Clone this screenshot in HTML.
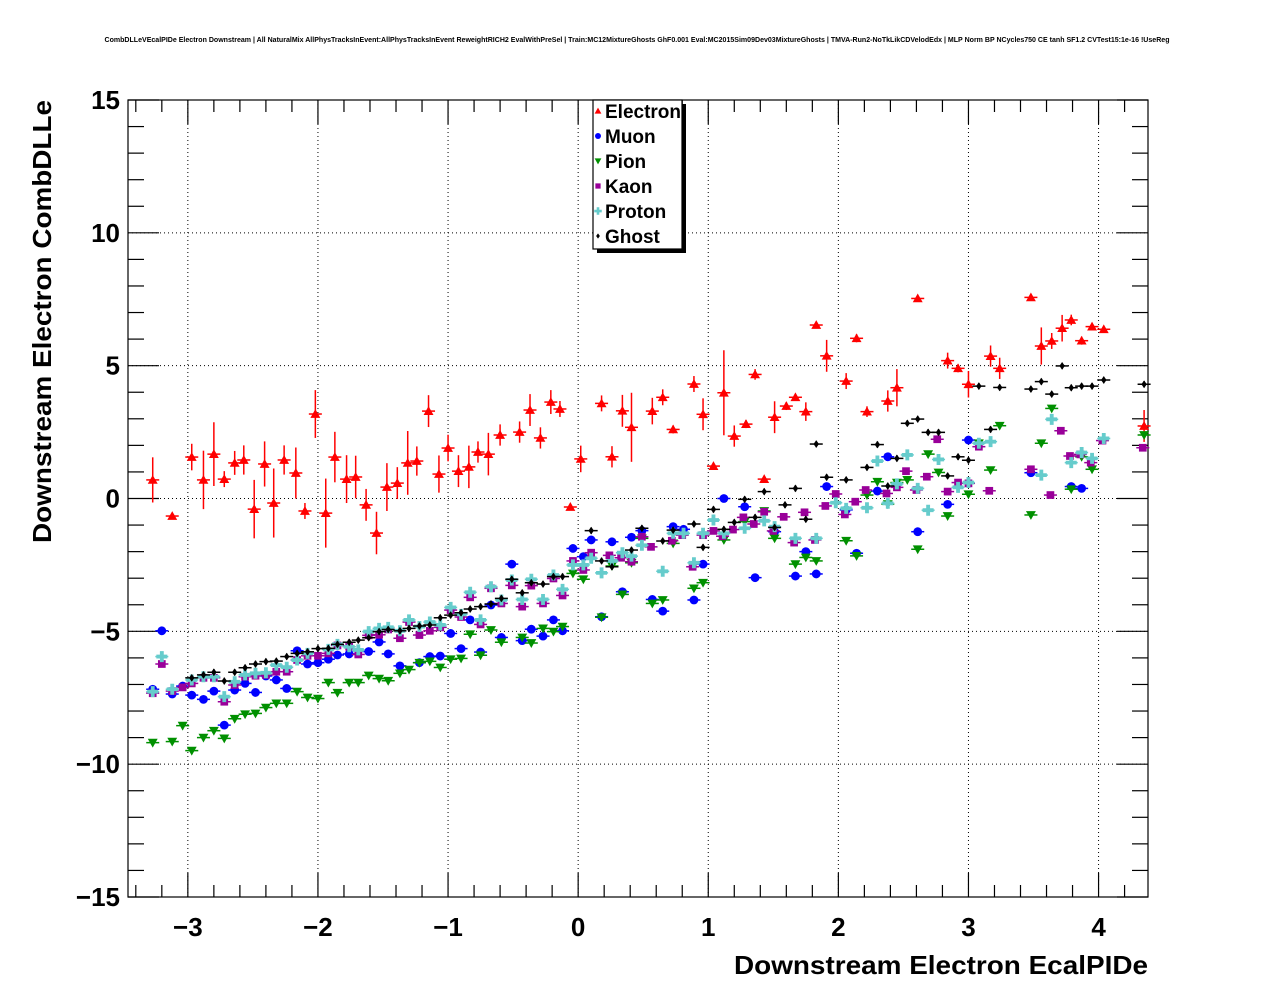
<!DOCTYPE html>
<html><head><meta charset="utf-8"><style>
html,body{margin:0;padding:0;background:#fff;}
svg{display:block;font-family:"Liberation Sans",Arial,sans-serif;}
</style></head><body>
<svg id="chart" width="1276" height="996" viewBox="0 0 1276 996">
<rect width="1276" height="996" fill="#fff"/>
<text x="637" y="42" font-size="7" font-weight="bold" text-anchor="middle" textLength="1065" lengthAdjust="spacingAndGlyphs">CombDLLeVEcalPIDe Electron Downstream | All NaturalMix AllPhysTracksInEvent:AllPhysTracksInEvent ReweightRICH2 EvalWithPreSel | Train:MC12MixtureGhosts GhF0.001 Eval:MC2015Sim09Dev03MixtureGhosts | TMVA-Run2-NoTkLikCDVelodEdx | MLP Norm BP NCycles750 CE tanh SF1.2 CVTest15:1e-16 !UseReg</text>
<g id="grid"></g>
<g id="axes"></g>
<g id="marks"></g>
<text x="734" y="974" font-size="26" font-weight="bold" textLength="414" lengthAdjust="spacingAndGlyphs">Downstream Electron EcalPIDe</text>
<text transform="translate(51,543) rotate(-90)" font-size="26" font-weight="bold" text-anchor="start" textLength="443" lengthAdjust="spacingAndGlyphs">Downstream Electron CombDLLe</text>
<g id="legend"></g>
</svg>
<script>
const xMin=-3.46, xMax=4.38, yMin=-15, yMax=15;
const xTicks=[-3,-2,-1,0,1,2,3,4];
const xTickLabels=["\u22123","\u22122","\u22121","0","1","2","3","4"];
const yTicks=[-15,-10,-5,0,5,10,15];
const yTickLabels=["\u221215","\u221210","\u22125","0","5","10","15"];
const seriesNames=["Electron","Muon","Pion","Kaon","Proton","Ghost"];

const elX=[-3.27,-3.12,-2.97,-2.88,-2.80,-2.72,-2.64,-2.57,-2.49,-2.41,-2.34,-2.26,-2.17,-2.10,-2.02,-1.94,-1.87,-1.78,-1.71,-1.63,-1.55,-1.47,-1.39,-1.31,-1.24,-1.15,-1.07,-1.00,-0.92,-0.84,-0.77,-0.69,-0.60,-0.45,-0.37,-0.29,-0.21,-0.14,-0.06,0.02,0.18,0.26,0.34,0.41,0.57,0.65,0.73,0.89,0.96,1.12,1.20,1.29,1.36,1.51,1.60,1.67,1.75,1.83,1.91,2.06,2.14,2.22,2.38,2.45,2.61,2.84,2.92,3.00,3.17,3.24,3.48,3.56,3.64,3.72,3.79,3.87,3.95,4.04,4.35,1.04,1.43];
const elY=[0.70,-0.66,1.56,0.70,1.67,0.73,1.34,1.45,-0.40,1.30,-0.17,1.45,0.96,-0.47,3.18,-0.55,1.56,0.73,0.81,-0.24,-1.30,0.43,0.58,1.34,1.41,3.29,0.92,1.90,1.03,1.19,1.75,1.67,2.39,2.50,3.33,2.28,3.63,3.37,-0.32,1.49,3.58,1.57,3.30,2.68,3.29,3.81,2.60,4.31,3.17,3.98,2.35,2.80,4.67,3.06,3.48,3.81,3.27,6.53,5.37,4.42,6.03,3.27,3.67,4.17,7.53,5.19,4.90,4.30,5.36,4.90,7.57,5.74,5.93,6.41,6.72,5.94,6.47,6.37,2.73,1.22,0.73];
const elErr=[0.85,0.1,0.5,1.1,1.2,0.3,0.45,0.55,1.1,0.85,1.3,0.55,0.96,0.3,0.9,1.3,0.95,0.9,0.8,0.6,0.8,0.9,0.6,1.2,0.55,0.6,0.7,0.5,0.6,0.8,0.4,0.8,0.4,0.4,0.6,0.4,0.45,0.3,0.1,0.5,0.3,0.4,0.6,1.3,0.5,0.3,0.15,0.3,0.6,1.6,0.4,0.15,0.2,0.6,0.15,0.1,0.35,0.1,0.6,0.3,0.15,0.2,0.4,0.7,0.1,0.3,0.15,0.5,0.4,0.4,0.1,0.7,0.3,0.5,0.2,0.15,0.1,0.1,0.6,0.1,0.1];

const muX=[-3.27,-3.20,-3.12,-3.04,-2.97,-2.88,-2.80,-2.72,-2.64,-2.56,-2.48,-2.40,-2.32,-2.24,-2.16,-2.08,-2.00,-1.92,-1.85,-1.76,-1.61,-1.53,-1.46,-1.37,-1.22,-1.14,-1.06,-0.98,-0.90,-0.83,-0.75,-0.67,-0.59,-0.51,-0.43,-0.36,-0.27,-0.19,-0.12,-0.04,0.04,0.10,0.18,0.26,0.34,0.41,0.49,0.57,0.65,0.73,0.81,0.89,0.96,1.12,1.28,1.36,1.51,1.67,1.75,1.83,1.91,2.06,2.14,2.30,2.38,2.61,2.84,3.00,3.48,3.79,3.87];
const muY=[-7.18,-4.98,-7.36,-7.06,-7.40,-7.56,-7.25,-8.53,-7.21,-6.96,-7.30,-6.68,-6.83,-7.15,-5.73,-6.23,-6.18,-6.05,-5.89,-5.85,-5.76,-5.40,-5.85,-6.30,-6.18,-5.95,-5.93,-5.08,-5.65,-4.57,-5.78,-4.01,-5.23,-2.47,-5.35,-4.92,-5.18,-4.57,-4.98,-1.88,-2.19,-1.56,-4.45,-1.63,-3.51,-1.46,-1.21,-3.80,-4.24,-1.06,-1.16,-3.82,-2.47,0.0,-0.31,-2.98,-1.25,-2.92,-2.00,-2.84,0.45,-0.43,-2.06,0.28,1.57,-1.25,-0.22,2.20,0.97,0.45,0.38];

const piX=[-3.27,-3.12,-3.04,-2.97,-2.88,-2.80,-2.72,-2.64,-2.56,-2.48,-2.40,-2.32,-2.24,-2.16,-2.08,-2.00,-1.92,-1.85,-1.76,-1.69,-1.61,-1.53,-1.46,-1.37,-1.30,-1.22,-1.14,-1.06,-0.98,-0.90,-0.83,-0.75,-0.67,-0.59,-0.43,-0.36,-0.27,-0.19,-0.12,-0.04,0.04,0.18,0.26,0.34,0.41,0.49,0.57,0.65,0.73,0.89,0.96,1.12,1.28,1.43,1.51,1.67,1.75,1.83,2.06,2.14,2.22,2.30,2.38,2.45,2.53,2.61,2.69,2.77,2.84,3.00,3.08,3.17,3.24,3.48,3.56,3.64,3.79,3.87,3.95,4.35];
const piY=[-9.19,-9.15,-8.55,-9.49,-9.00,-8.74,-9.03,-8.29,-8.12,-8.09,-7.87,-7.71,-7.71,-7.27,-7.49,-7.53,-6.93,-7.31,-6.93,-6.93,-6.66,-6.78,-6.86,-6.58,-6.44,-6.18,-6.13,-6.36,-6.05,-6.02,-5.11,-5.90,-4.95,-5.41,-5.23,-5.44,-4.89,-5.01,-4.82,-2.82,-3.04,-4.47,-2.54,-3.61,-2.42,-1.50,-3.95,-3.82,-1.69,-3.38,-3.17,-1.56,-0.87,-0.47,-1.50,-2.47,-2.22,-2.35,-1.59,-2.16,0.13,0.63,-0.21,0.60,0.70,-1.91,1.67,0.98,-0.66,0.16,2.08,1.07,2.74,-0.62,2.08,3.39,0.35,1.57,1.10,2.39];

const kaX=[-3.27,-3.20,-3.12,-3.04,-2.97,-2.88,-2.80,-2.72,-2.64,-2.56,-2.48,-2.40,-2.32,-2.24,-2.16,-2.08,-2.00,-1.92,-1.85,-1.76,-1.69,-1.61,-1.53,-1.46,-1.37,-1.30,-1.22,-1.14,-1.06,-0.98,-0.90,-0.83,-0.75,-0.67,-0.59,-0.51,-0.43,-0.36,-0.27,-0.19,-0.12,-0.04,0.04,0.10,0.24,0.33,0.41,0.49,0.56,0.72,0.80,0.88,0.96,1.04,1.11,1.19,1.27,1.35,1.43,1.50,1.58,1.66,1.74,1.82,1.90,1.98,2.05,2.13,2.21,2.37,2.45,2.52,2.60,2.68,2.76,2.84,2.92,3.00,3.08,3.16,3.48,3.63,3.71,3.78,3.86,3.94,4.03,4.34];
const kaY=[-7.33,-6.23,-7.25,-7.11,-6.96,-6.75,-6.75,-7.65,-7.02,-6.71,-6.67,-6.64,-6.52,-6.52,-6.08,-5.92,-5.92,-5.83,-5.53,-5.58,-5.87,-5.15,-5.13,-4.93,-5.26,-4.65,-5.14,-4.98,-4.85,-4.20,-4.46,-3.72,-4.74,-3.38,-3.95,-3.27,-4.07,-3.28,-3.95,-3.01,-3.65,-2.35,-2.69,-2.04,-2.14,-2.23,-2.38,-1.44,-1.82,-1.59,-1.38,-2.57,-1.38,-1.22,-1.42,-1.17,-0.71,-0.96,-0.50,-1.22,-0.69,-1.66,-0.52,-1.56,-0.28,0.17,-0.60,-0.12,0.32,0.19,0.42,1.03,0.32,0.82,2.23,0.26,0.60,0.57,1.95,0.29,1.10,0.13,2.55,1.60,1.66,1.35,2.18,1.91];

const prX=[-3.27,-3.20,-3.12,-2.97,-2.88,-2.80,-2.72,-2.64,-2.56,-2.48,-2.40,-2.32,-2.24,-2.16,-2.08,-1.92,-1.85,-1.76,-1.69,-1.61,-1.53,-1.46,-1.37,-1.30,-1.22,-1.14,-1.06,-0.98,-0.90,-0.83,-0.75,-0.67,-0.59,-0.51,-0.43,-0.36,-0.27,-0.19,-0.12,-0.04,0.04,0.10,0.18,0.26,0.34,0.41,0.49,0.65,0.73,0.81,0.89,0.96,1.04,1.12,1.28,1.43,1.51,1.67,1.83,1.98,2.06,2.22,2.30,2.38,2.45,2.53,2.61,2.69,2.77,2.92,3.00,3.08,3.17,3.56,3.64,3.79,3.87,3.95,4.04];
const prY=[-7.27,-5.95,-7.18,-6.83,-6.71,-6.71,-7.46,-6.90,-6.64,-6.58,-6.56,-6.27,-6.35,-6.08,-5.83,-5.68,-5.49,-5.58,-5.70,-5.01,-4.89,-4.85,-4.98,-4.57,-4.82,-4.65,-4.76,-4.10,-4.36,-3.53,-4.57,-3.32,-3.82,-3.07,-3.80,-3.04,-3.80,-2.88,-3.42,-2.50,-2.50,-2.25,-2.80,-2.35,-2.04,-2.17,-1.76,-2.74,-1.31,-1.31,-2.42,-1.31,-0.81,-1.31,-1.12,-0.84,-1.06,-1.50,-1.50,-0.16,-0.37,-0.35,1.41,-0.18,0.55,1.64,0.38,-0.44,1.47,0.42,0.60,2.08,2.14,0.88,2.98,1.35,1.73,1.51,2.26];

const ghX=[-2.97,-2.88,-2.80,-2.72,-2.64,-2.56,-2.48,-2.40,-2.32,-2.24,-2.16,-2.08,-2.00,-1.92,-1.85,-1.76,-1.69,-1.61,-1.53,-1.46,-1.37,-1.30,-1.22,-1.14,-1.06,-0.98,-0.90,-0.83,-0.75,-0.67,-0.59,-0.51,-0.43,-0.36,-0.27,-0.19,-0.12,0.10,0.18,0.26,0.41,0.49,0.65,0.73,0.89,0.96,1.04,1.12,1.20,1.28,1.36,1.43,1.51,1.59,1.67,1.75,1.83,1.91,2.06,2.22,2.30,2.38,2.45,2.53,2.61,2.69,2.77,2.84,2.92,3.00,3.08,3.17,3.24,3.48,3.56,3.64,3.72,3.79,3.87,3.95,4.04,4.35];
const ghY=[-6.75,-6.64,-6.54,-6.87,-6.54,-6.37,-6.23,-6.14,-6.12,-5.95,-5.83,-5.77,-5.65,-5.64,-5.49,-5.41,-5.33,-5.24,-5.01,-4.93,-4.98,-4.89,-4.80,-4.76,-4.49,-4.39,-4.30,-4.16,-4.07,-3.97,-3.76,-3.04,-3.55,-3.17,-3.22,-2.94,-2.94,-1.21,-2.35,-2.57,-1.94,-1.12,-1.60,-1.19,-0.96,-1.84,-0.41,-1.16,-0.90,-0.03,-0.71,0.26,-1.09,-0.24,0.38,-0.78,2.05,0.80,0.70,1.17,2.03,0.47,1.51,2.83,2.99,2.49,2.49,0.85,1.57,1.44,4.23,2.60,4.18,4.12,4.40,3.93,4.99,4.17,4.23,4.23,4.46,4.30];

const L=128,R=1148,T=100,B=897;
function sx(v){return L+(v-xMin)/(xMax-xMin)*(R-L);}
function sy(v){return B-(v-yMin)/(yMax-yMin)*(B-T);}
const NS="http://www.w3.org/2000/svg";
function mk(tag,parent,attrs){const e=document.createElementNS(NS,tag);for(const k in attrs)e.setAttribute(k,attrs[k]);parent.appendChild(e);return e;}
const grid=document.getElementById('grid'),axes=document.getElementById('axes'),marks=document.getElementById('marks'),legend=document.getElementById('legend');

xTicks.forEach(v=>{const l=mk('line',grid,{x1:sx(v),x2:sx(v),y1:T,y2:B,stroke:'#000','stroke-width':1,'stroke-dasharray':'1,3'});

});
yTicks.slice(1,-1).forEach(v=>{const l=mk('line',grid,{x1:L,x2:R,y1:sy(v),y2:sy(v),stroke:'#000','stroke-width':1,'stroke-dasharray':'1,3'});

});

const frame=mk('rect',axes,{x:L,y:T,width:R-L,height:B-T,fill:'none',stroke:'#000','stroke-width':1.2});


for(let v=-3.4;v<=4.35;v+=0.2){const r=Math.round(v*10)/10;const major=Math.abs(r-Math.round(r))<1e-6;const len=major?24:12;
mk('line',axes,{x1:sx(r),x2:sx(r),y1:B,y2:B-len,stroke:'#000','stroke-width':1.2});
mk('line',axes,{x1:sx(r),x2:sx(r),y1:T,y2:T+len,stroke:'#000','stroke-width':1.2});}
for(let v=-15;v<=15;v++){const major=v%5===0;const len=major?31:16;
mk('line',axes,{x1:L,x2:L+len,y1:sy(v),y2:sy(v),stroke:'#000','stroke-width':1.2});
mk('line',axes,{x1:R,x2:R-len,y1:sy(v),y2:sy(v),stroke:'#000','stroke-width':1.2});}
xTicks.forEach((v,i)=>{const t=mk('text',axes,{x:sx(v),y:936,'font-size':26,'font-weight':'bold','text-anchor':'middle'});t.textContent=xTickLabels[i];

});
yTicks.forEach((v,i)=>{const t=mk('text',axes,{x:120,y:sy(v)+9,'font-size':26,'font-weight':'bold','text-anchor':'end'});t.textContent=yTickLabels[i];

});

const colors={Electron:'#ff0000',Muon:'#0000ff',Pion:'#009000',Kaon:'#990099',Proton:'#66cccc',Ghost:'#000000'};
function marker(g,name,cx,cy,s){const c=colors[name];
if(name==='Electron')return mk('polygon',g,{points:`${cx},${cy-4.5*s} ${cx-4.5*s},${cy+3.5*s} ${cx+4.5*s},${cy+3.5*s}`,fill:c});
if(name==='Pion')return mk('polygon',g,{points:`${cx},${cy+4.5*s} ${cx-4.5*s},${cy-3.5*s} ${cx+4.5*s},${cy-3.5*s}`,fill:c});
if(name==='Muon')return mk('circle',g,{cx:cx,cy:cy,r:4*s,fill:c});
if(name==='Kaon')return mk('rect',g,{x:cx-3.5*s,y:cy-3.5*s,width:7*s,height:7*s,fill:c});
if(name==='Proton')return mk('path',g,{d:`M${cx-5*s},${cy}H${cx+5*s}M${cx},${cy-5*s}V${cy+5*s}`,stroke:c,'stroke-width':3.5*s});
return mk('polygon',g,{points:`${cx},${cy-3.5*s} ${cx+2.5*s},${cy} ${cx},${cy+3.5*s} ${cx-2.5*s},${cy}`,fill:c});}

function drawSeries(name,xs,ys,errs){const g=mk('g',marks,{});


const c=colors[name];
xs.forEach((xv,i)=>{const yv=ys[i];const e=errs?errs[i]:0.12;const px=sx(xv),py=sy(yv);
const p=mk('g',g,{});


mk('line',p,{x1:sx(xv-0.05),x2:sx(xv+0.05),y1:py,y2:py,stroke:c,'stroke-width':1.5});
mk('line',p,{x1:px,x2:px,y1:sy(yv-e),y2:sy(yv+e),stroke:c,'stroke-width':1.5});
marker(p,name,px,py,1.1);});}
drawSeries('Electron',elX,elY,elErr);
drawSeries('Muon',muX,muY,null);
drawSeries('Pion',piX,piY,null);
drawSeries('Kaon',kaX,kaY,null);
drawSeries('Proton',prX,prY,null);
drawSeries('Ghost',ghX,ghY,null);

mk('rect',legend,{x:597,y:104,width:89,height:149,fill:'#000'});
const lb=mk('rect',legend,{x:593,y:100,width:89,height:149,fill:'#fff',stroke:'#000','stroke-width':1.2});


seriesNames.forEach((n,i)=>{const cy=111+i*25;const g=mk('g',legend,{});


marker(g,n,598,cy,0.75);
const t=mk('text',g,{x:605,y:cy+7,'font-size':19,'font-weight':'bold'});t.textContent=n;});
</script>
</body></html>
